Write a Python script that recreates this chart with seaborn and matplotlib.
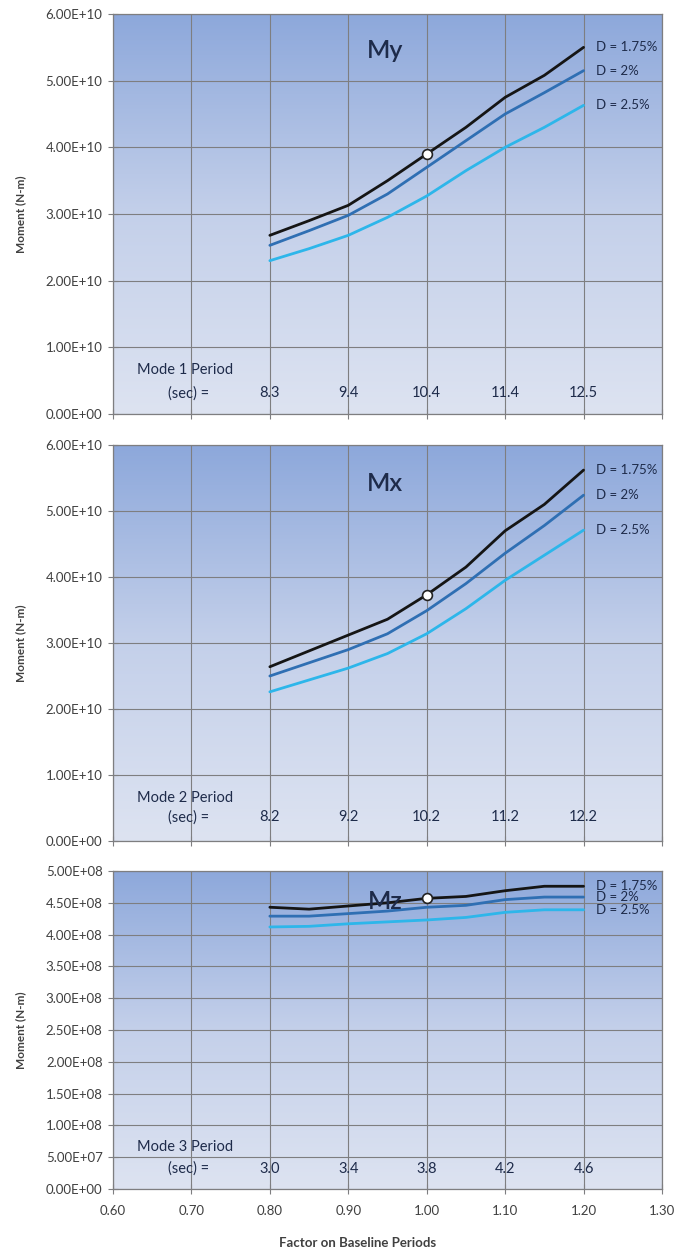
import numpy as np
import pandas as pd
import matplotlib
matplotlib.use("Agg")
import matplotlib.pyplot as plt
import seaborn as sns
from matplotlib.colors import LinearSegmentedColormap

sns.set_theme(style="white")
plt.rcParams['font.family'] = ['Lato', 'DejaVu Sans']

# ---------------- data ----------------
factor = [0.80, 0.85, 0.90, 0.95, 1.00, 1.05, 1.10, 1.15, 1.20]
damping = ["D = 1.75%", "D = 2%", "D = 2.5%"]

my_175 = [2.68e10, 2.90e10, 3.13e10, 3.50e10, 3.90e10, 4.30e10, 4.75e10, 5.08e10, 5.50e10]
my_200 = [2.53e10, 2.75e10, 2.98e10, 3.30e10, 3.70e10, 4.10e10, 4.50e10, 4.82e10, 5.15e10]
my_250 = [2.30e10, 2.48e10, 2.68e10, 2.95e10, 3.27e10, 3.65e10, 4.00e10, 4.30e10, 4.63e10]

mx_175 = [2.64e10, 2.88e10, 3.12e10, 3.36e10, 3.73e10, 4.15e10, 4.70e10, 5.10e10, 5.62e10]
mx_200 = [2.50e10, 2.70e10, 2.90e10, 3.14e10, 3.49e10, 3.90e10, 4.36e10, 4.78e10, 5.24e10]
mx_250 = [2.26e10, 2.44e10, 2.62e10, 2.84e10, 3.14e10, 3.52e10, 3.95e10, 4.33e10, 4.71e10]

mz_175 = [4.43e8, 4.40e8, 4.45e8, 4.50e8, 4.57e8, 4.60e8, 4.69e8, 4.76e8, 4.76e8]
mz_200 = [4.29e8, 4.29e8, 4.33e8, 4.37e8, 4.43e8, 4.46e8, 4.55e8, 4.59e8, 4.59e8]
mz_250 = [4.12e8, 4.13e8, 4.17e8, 4.20e8, 4.23e8, 4.27e8, 4.35e8, 4.39e8, 4.39e8]

period_x = [0.80, 0.90, 1.00, 1.10, 1.20]
mode1_periods = ["8.3", "9.4", "10.4", "11.4", "12.5"]
mode2_periods = ["8.2", "9.2", "10.2", "11.2", "12.2"]
mode3_periods = ["3.0", "3.4", "3.8", "4.2", "4.6"]

baseline_x = 1.00
titles = ["My", "Mx", "Mz"]
mode_labels = ["Mode 1 Period", "Mode 2 Period", "Mode 3 Period"]
xticks = [0.60, 0.70, 0.80, 0.90, 1.00, 1.10, 1.20, 1.30]

# ---------------- styling ----------------
palette = {"D = 1.75%": "#151515", "D = 2%": "#2F6FB3", "D = 2.5%": "#2DB6EA"}
grad = LinearSegmentedColormap.from_list("bg", ["#DDE3F1", "#C4D0EA", "#8DA8DB"])
grid_col = "#7E7E80"
txt_col = "#1E2B4A"
lab_col = "#404040"

fig = plt.figure(figsize=(6.79, 12.47), dpi=100)
W, H = 679, 1247
panels = [
    # (top_px, bottom_px, ylim, yticks, series, periods, title_y, mode_y, sec_y)
    (14, 414, (0, 6e10), np.arange(0, 6.01e10, 1e10), (my_175, my_200, my_250), mode1_periods, 0.910, 0.110, 0.052),
    (445, 841, (0, 6e10), np.arange(0, 6.01e10, 1e10), (mx_175, mx_200, mx_250), mode2_periods, 0.902, 0.109, 0.060),
    (871, 1189, (0, 5e8), np.arange(0, 5.01e8, 5e7), (mz_175, mz_200, mz_250), mode3_periods, 0.903, 0.132, 0.063),
]
left_px, right_px = 113, 662

for i, (top, bot, ylim, yt, series, periods, ty, my_, sy) in enumerate(panels):
    ax = fig.add_axes([left_px / W, 1 - bot / H, (right_px - left_px) / W, (bot - top) / H])
    # gradient background
    g = np.linspace(0, 1, 256).reshape(-1, 1)
    ax.imshow(g, cmap=grad, aspect="auto", extent=[0, 1, 0, 1], transform=ax.transAxes,
              origin="lower", zorder=0)

    rows = []
    for d, vals in zip(damping, series):
        for x, v in zip(factor, vals):
            rows.append({"factor": x, "moment": v, "damping": d})
    df = pd.DataFrame(rows)
    sns.lineplot(data=df, x="factor", y="moment", hue="damping", palette=palette,
                 hue_order=damping[::-1], linewidth=2.0, ax=ax, legend=False, zorder=3)
    base = df[(df["damping"] == damping[0]) & (np.isclose(df["factor"], baseline_x))]
    sns.scatterplot(data=base, x="factor", y="moment", ax=ax, s=50, color="white",
                    edgecolor="#222222", linewidth=1.2, zorder=5, legend=False)

    ax.set_xlim(0.6, 1.3)
    ax.set_ylim(*ylim)
    ax.set_xticks(xticks)
    ax.set_yticks(yt)
    ax.grid(True, color=grid_col, linewidth=0.8)
    for ln in ax.get_xgridlines() + ax.get_ygridlines():
        ln.set_zorder(1)
    for sp in ax.spines.values():
        sp.set_color(grid_col)
        sp.set_linewidth(0.9)
    ax.tick_params(axis="both", direction="inout", length=7, width=0.8, color=grid_col,
                   labelsize=9.5, labelcolor=lab_col, bottom=True, left=True)
    ax.tick_params(axis="y", pad=4)
    ax.tick_params(axis="x", pad=8)
    ax.set_yticklabels([f"{v:.2E}" for v in yt])
    if i < 2:
        ax.set_xticklabels([])
        ax.set_xlabel("")
    else:
        ax.set_xticklabels([f"{v:.2f}" for v in xticks])
        ax.set_xlabel("Factor on Baseline Periods", fontsize=9.5, fontweight="bold",
                      color=lab_col)
        ax.xaxis.set_label_coords(0.446, -0.151)
    ax.set_ylabel("Moment (N-m)", fontsize=8.5, fontweight="bold", color=lab_col)
    ax.yaxis.set_label_coords(-0.158, 0.5)

    # end labels
    for d, vals in zip(damping, series):
        ax.text(1.216, vals[-1], d, fontsize=9.5, color=txt_col, va="center", ha="left",
                zorder=6)
    # title
    ax.text(0.495, ty, titles[i], transform=ax.transAxes, fontsize=18, color=txt_col,
            fontweight="semibold", ha="center", va="center", zorder=6)
    # mode period texts
    ax.text(0.044, my_, mode_labels[i], transform=ax.transAxes, fontsize=10.5, color=txt_col,
            ha="left", va="center", zorder=6)
    ax.text(0.101, sy, "(sec) =", transform=ax.transAxes, fontsize=10.5, color=txt_col,
            ha="left", va="center", zorder=6)
    for px, p in zip(period_x, periods):
        ax.text(px, sy, p, transform=ax.get_xaxis_transform(), fontsize=10.5, color=txt_col,
                ha="center", va="center", zorder=6)

fig.savefig("out.png", dpi=100)
